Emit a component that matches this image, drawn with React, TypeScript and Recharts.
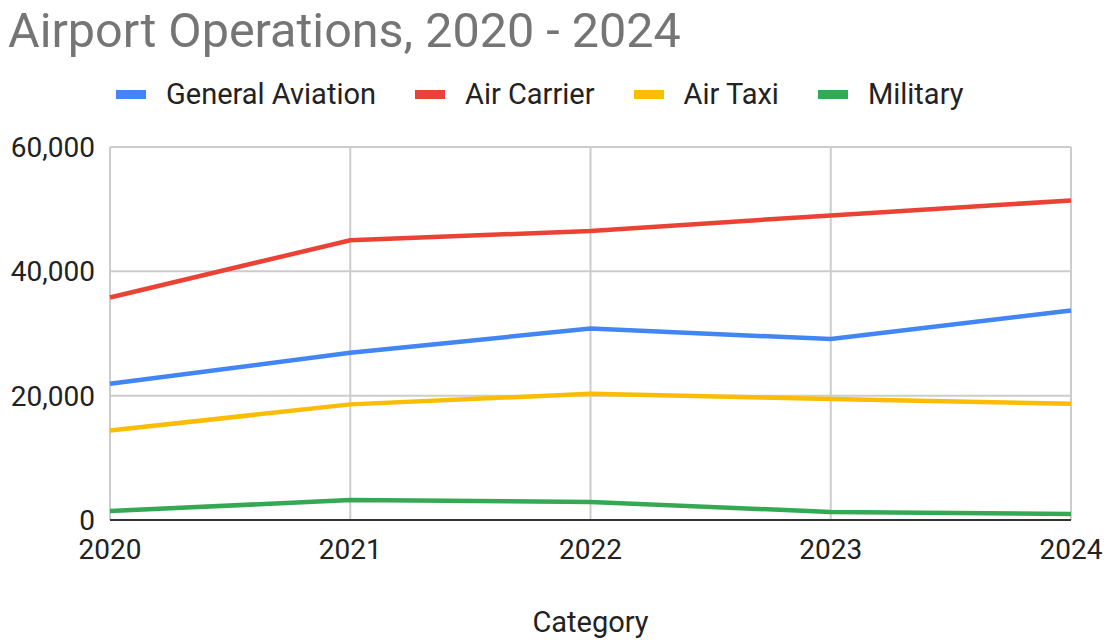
import React from "react"
import { LineChart, Line, XAxis, YAxis, CartesianGrid, Legend } from "recharts"

const years = ["2020", "2021", "2022", "2023", "2024"]
const generalAviation = [21900, 26900, 30800, 29100, 33700]
const airCarrier = [35800, 45000, 46500, 49000, 51400]
const airTaxi = [14400, 18600, 20300, 19450, 18700]
const military = [1450, 3200, 2900, 1300, 950]
const yTicks = [0, 20000, 40000, 60000]

const series = [
	{ key: "generalAviation", name: "General Aviation", color: "#4285F4" },
	{ key: "airCarrier", name: "Air Carrier", color: "#EA4335" },
	{ key: "airTaxi", name: "Air Taxi", color: "#FBBC04" },
	{ key: "military", name: "Military", color: "#34A853" },
]

const data = years.map((year, i) => ({
	year,
	generalAviation: generalAviation[i],
	airCarrier: airCarrier[i],
	airTaxi: airTaxi[i],
	military: military[i],
}))

const font = "Roboto, sans-serif"

const renderLegend = () => (
	<div style={{ display: "flex", alignItems: "center", height: 30, fontFamily: font, fontSize: 29, color: "#222" }}>
		{series.map((s) => (
			<div key={s.key} style={{ display: "flex", alignItems: "center", marginRight: 39 }}>
				<span style={{ display: "inline-block", width: 30, height: 9, background: s.color, marginRight: 20 }} />
				<span>{s.name}</span>
			</div>
		))}
	</div>
)

const App: React.FC = () => {
	return (
		<div style={{ position: "absolute", left: 0, top: 0, width: 1110, height: 640, background: "#fff" }}>
			<div
				style={{
					position: "absolute",
					left: 8,
					top: 7,
					fontFamily: font,
					fontSize: 48.5,
					lineHeight: 1,
					color: "#757575",
					whiteSpace: "nowrap",
				}}
			>
				Airport Operations, 2020 - 2024
			</div>
			<LineChart width={1110} height={640} data={data} margin={{ top: 117, right: 39, left: 0, bottom: 0 }}>
				<CartesianGrid stroke="#cccccc" strokeWidth={2} />
				<XAxis
					dataKey="year"
					height={120}
					tickLine={false}
					tickMargin={13}
					axisLine={{ stroke: "#333", strokeWidth: 2 }}
					tick={{ fontSize: 28, fill: "#222", fontFamily: font }}
					interval={0}
					label={{ value: "Category", position: "insideBottom", offset: 8, fontSize: 29, fill: "#222", fontFamily: font }}
				/>
				<YAxis
					width={110}
					domain={[0, 60000]}
					ticks={yTicks}
					axisLine={false}
					tickLine={false}
					tickMargin={9}
					tickFormatter={(v: number) => v.toLocaleString("en-US")}
					tick={{ fontSize: 28, fill: "#222", fontFamily: font }}
				/>
				<Legend verticalAlign="top" content={renderLegend} wrapperStyle={{ top: 79, left: 116, width: "auto" }} />
				{series.map((s) => (
					<Line
						key={s.key}
						type="linear"
						dataKey={s.key}
						name={s.name}
						stroke={s.color}
						strokeWidth={4.5}
						dot={false}
						activeDot={false}
						isAnimationActive={false}
					/>
				))}
			</LineChart>
		</div>
	)
}

export default App
